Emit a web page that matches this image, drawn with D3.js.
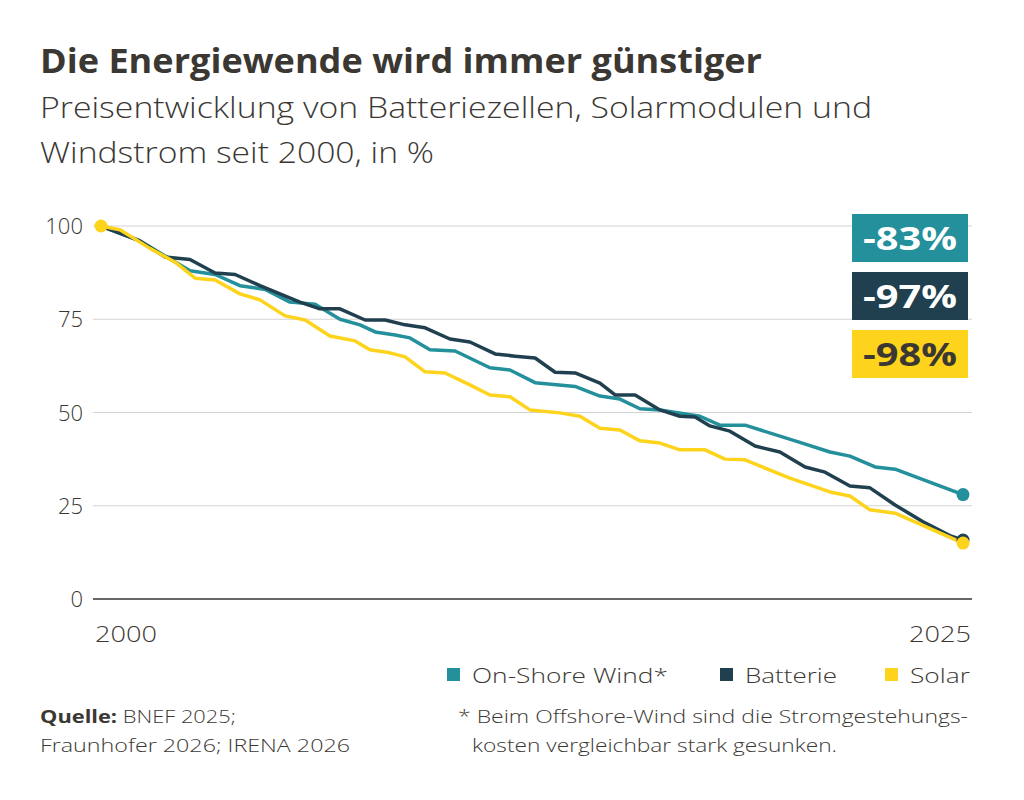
<!DOCTYPE html>
<html><head><meta charset="utf-8">
<script src="https://cdn.jsdelivr.net/npm/d3@7"></script>
<style>body{margin:0;background:#fff;font-family:"Open Sans",Lato,sans-serif;color:#3b3833}</style>
</head><body><div id="chart"></div>
<script>
const windYears = [0,1.13,2.58,3.31,4.03,4.76,5.48,6.21,6.93,7.51,7.95,8.53,8.96,9.54,10.27,11.28,11.86,12.59,13.75,14.47,15.05,15.63,16.21,17.37,17.95,18.68,20.27,21.14,21.72,22.45,23.03,25];
const windValues = [100,96,88,87,84,83,79.6,79,75,73.5,71.6,70.8,70,66.8,66.5,62,61.4,58,57,54.4,53.6,51,50.7,49,46.6,46.6,42,39.4,38.3,35.4,34.8,28];
const battYears = [0,1.13,1.86,2.58,3.31,3.89,4.61,5.77,6.35,6.93,7.66,8.24,8.82,9.40,10.12,10.70,11.43,12.01,12.59,13.17,13.75,14.47,14.91,15.49,16.21,16.79,17.23,17.66,18.24,18.97,19.69,20.42,21.0,21.72,22.3,23.03,23.9,24.62,25];
const battValues = [100,96,91.7,91,87.4,87,84,79.6,77.8,77.8,74.8,74.8,73.5,72.7,69.7,68.9,65.7,65.1,64.6,60.8,60.6,57.9,54.7,54.7,50.7,49,48.8,46.4,45,41,39.4,35.4,34,30.3,29.8,25.2,20.4,17,15.8];
const solarYears = [0,0.55,1.42,2.15,2.73,3.31,4.03,4.61,5.34,5.92,6.64,7.37,7.80,8.38,8.82,9.40,9.98,10.70,11.28,11.86,12.44,13.31,13.89,14.47,15.05,15.63,16.21,16.79,17.52,18.10,18.68,19.98,21.14,21.72,22.30,23.03,25];
const solarValues = [100,99,94,90.3,86,85.5,81.8,80.2,75.9,74.8,70.5,69.2,66.8,66,64.9,60.9,60.6,57.4,54.7,54.2,50.7,49.9,49,45.8,45.3,42.4,41.8,40,40,37.5,37.3,32.4,28.7,27.6,23.9,23,15];
const yTicks = [0,25,50,75,100];
const badges = ["-83%","-97%","-98%"];
const seriesNames = ["On-Shore Wind*","Batterie","Solar"];
const colors = ["#23909b","#20404f","#fdd31c"];

const W = 1024, H = 800;
const ink = "#3b3833";
const svg = d3.select("#chart").append("svg").attr("width", W).attr("height", H);
const x = d3.scaleLinear().domain([0,25]).range([101,963]);
const y = d3.scaleLinear().domain([0,100]).range([599,226]);

// text helper, stretched to the widths of the reference
function txt(xp, yp, size, t, len, weight){
  const e = svg.append("text").attr("x",xp).attr("y",yp).attr("font-size",size).attr("fill",ink)
    .attr("font-weight",weight||400).text(t);
  if (len) e.attr("textLength",len).attr("lengthAdjust","spacingAndGlyphs");
  return e;
}

txt(40,73,34,"Die Energiewende wird immer günstiger",722,700);
txt(40,118,29,"Preisentwicklung von Batteriezellen, Solarmodulen und",832,300);
txt(40,163,29,"Windstrom seit 2000, in %",394,300);

// grid + y axis
yTicks.forEach(t=>{
  svg.append("line").attr("x1",93).attr("x2",972).attr("y1",y(t)).attr("y2",y(t))
    .attr("stroke", t===0 ? "#333" : "#d3d3d3").attr("stroke-width", t===0 ? 1.5 : 1);
  svg.append("text").attr("x",83).attr("y",y(t)+8).attr("text-anchor","end").attr("font-size",22).attr("font-weight",300).attr("fill",ink).text(t);
});
txt(x(0)-6,642,22,"2000",62,300);
txt(x(25)-54,642,22,"2025",62,300);

const line = d3.line().x(d=>x(d[0])).y(d=>y(d[1]));
const series = [d3.zip(windYears,windValues), d3.zip(battYears,battValues), d3.zip(solarYears,solarValues)];
series.forEach((s,i)=>{
  svg.append("path").datum(s).attr("d",line).attr("fill","none").attr("stroke",colors[i]).attr("stroke-width",3.5).attr("stroke-linejoin","round");
});
series.forEach((s,i)=>{
  const last = s[s.length-1];
  svg.append("circle").attr("cx",x(last[0])).attr("cy",y(last[1])).attr("r",6.5).attr("fill",colors[i]);
});
svg.append("circle").attr("cx",x(0)).attr("cy",y(100)).attr("r",6.5).attr("fill",colors[2]);

// badges
badges.forEach((b,i)=>{
  const g = svg.append("g").attr("transform",`translate(852,${214+i*58})`);
  g.append("rect").attr("width",116).attr("height",48).attr("fill",colors[i]);
  g.append("text").attr("x",58).attr("y",36).attr("text-anchor","middle").attr("font-size",32).attr("font-weight",700)
    .attr("textLength",94).attr("lengthAdjust","spacingAndGlyphs")
    .attr("fill", i===2 ? ink : "#fff").text(b);
});

// legend
const legX = [447,720,885];
const legLen = [196,92,60];
seriesNames.forEach((n,i)=>{
  svg.append("rect").attr("x",legX[i]).attr("y",668).attr("width",13).attr("height",13).attr("fill",colors[i]);
  txt(legX[i]+25,683,21,n,legLen[i],300);
});

// source + note
const src = txt(40,723,18,"",196);
src.append("tspan").attr("font-weight",700).text("Quelle: ");
src.append("tspan").attr("font-weight",300).text("BNEF 2025;");
txt(40,752,18,"Fraunhofer 2026; IRENA 2026",310,300);
txt(458,723,18,"* Beim Offshore-Wind sind die Stromgestehungs-",510,300);
txt(472,752,18,"kosten vergleichbar stark gesunken.",365,300);
</script></body></html>
